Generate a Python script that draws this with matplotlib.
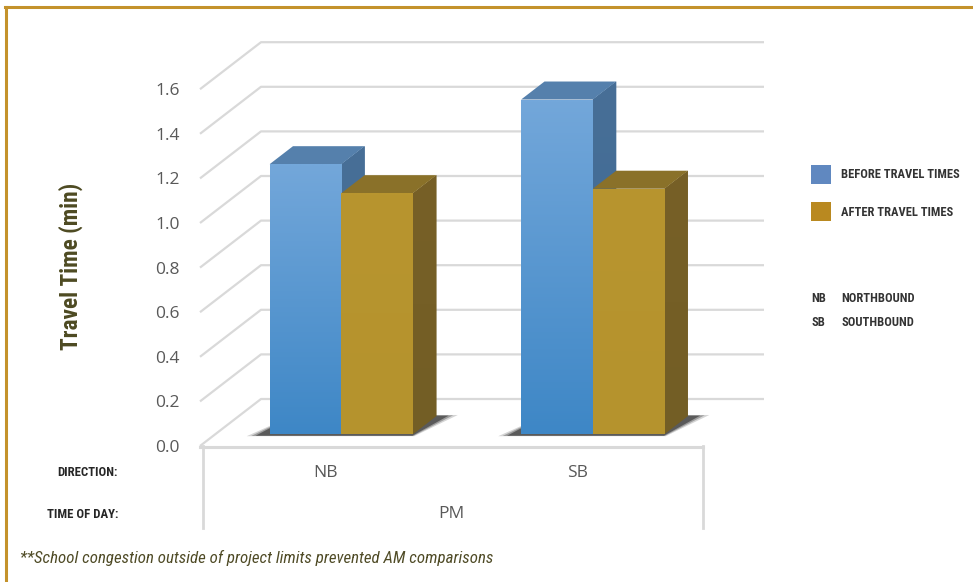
import numpy as np
import matplotlib
matplotlib.use("Agg")
import matplotlib.pyplot as plt
from matplotlib import font_manager as fm
from matplotlib.patches import Polygon, Rectangle
from matplotlib.colors import to_rgb

# ---------------- data ----------------
categories = ["NB", "SB"]
time_of_day = "PM"
before_vals = [1.21, 1.50]
after_vals = [1.08, 1.10]
y_ticks = [0.0, 0.2, 0.4, 0.6, 0.8, 1.0, 1.2, 1.4, 1.6]
series_labels = ["BEFORE TRAVEL TIMES", "AFTER TRAVEL TIMES"]
abbrevs = [("NB", "NORTHBOUND"), ("SB", "SOUTHBOUND")]
y_title = "Travel Time (min)"
row_labels = ["DIRECTION:", "TIME OF DAY:"]
footnote = "**School congestion outside of project limits prevented AM comparisons"

# ---------------- fonts ----------------
ttf = fm.fontManager.ttflist
names = {f.name for f in ttf}
cond_family, cond_stretch = "DejaVu Sans", "normal"
for cand in ["Liberation Sans Narrow", "Roboto Condensed", "Open Sans Condensed",
             "DejaVu Sans Condensed"]:
    if cand in names:
        cond_family = cand
        break
else:
    if any(f.name == "DejaVu Sans" and str(f.stretch) in ("condensed", "semi-condensed", "500", "75", "87")
           for f in ttf):
        cond_stretch = "condensed"
tick_family = "Open Sans" if "Open Sans" in names else "DejaVu Sans"

W, H = 973, 582
fig = plt.figure(figsize=(W / 100, H / 100), dpi=100)
fig.patch.set_facecolor("white")

# axes mapping: front plane x: category units, y: value units
PX0, PXU = 200.0, 251.5
PY0, PYU = 446.0, 223.0
ax = fig.add_axes([0, 0, 1, 1])
ax.set_xlim(-PX0 / PXU, (W - PX0) / PXU)
ax.set_ylim((PY0 - H) / PYU, PY0 / PYU)
ax.axis("off")

DX, DY = 61 / PXU, 47 / PYU  # full depth offset
ncat = len(categories)


def proj(x, v, d):
    return (x + d * DX, v + d * DY)


grid_c = "#D9D9D9"
# gridlines on side wall and back wall
for v in y_ticks:
    ax.plot([0, DX, ncat + DX], [v, v + DY, v + DY], color=grid_c, lw=1.6,
            solid_capstyle="butt", zorder=1)
    ax.text(-20 / PXU, v - 2 / PYU, f"{v:.1f}", ha="right", va="center",
            fontsize=12.5, color="#595959", family=tick_family, zorder=5)

# floor front edge and category box
ax.plot([0, ncat], [-1 / PYU, -1 / PYU], color=grid_c, lw=2.2, zorder=1)
box_bottom = (PY0 - 528) / PYU
ax.plot([0.01, 0.01], [0, box_bottom], color=grid_c, lw=2.0, zorder=1)
ax.plot([ncat, ncat], [0, box_bottom], color=grid_c, lw=2.0, zorder=1)

for i, c in enumerate(categories):
    ax.text(i + 0.5, (PY0 - 473) / PYU, c, ha="center", va="center",
            fontsize=12.5, color="#595959", family=tick_family)
ax.text(ncat / 2, (PY0 - 514) / PYU, time_of_day, ha="center", va="center",
        fontsize=12.5, color="#595959", family=tick_family)

# bars
bar_w = 0.285
d0, d1 = 0.255, 0.638
styles = [
    dict(top_c="#73A7DA", bot_c="#3E87C6", lid="#5580AC", side_top="#486F97", side_bot="#3B6A95"),
    dict(top_c="#B8952F", bot_c="#B5932D", lid="#8A7129", side_top="#776027", side_bot="#735E25"),
]


def vgrad(c_top, c_bot, n=64):
    a, b = np.array(to_rgb(c_top)), np.array(to_rgb(c_bot))
    t = np.linspace(0, 1, n)[:, None]
    return (a * (1 - t) + b * t)[:, None, :]


z = 3
for i, c in enumerate(categories):
    center = i + 0.5
    gx0, gx1 = center - bar_w, center + bar_w
    # shadow on floor
    for k, (grow, alpha) in enumerate([(0.055, 0.18), (0.038, 0.3), (0.022, 0.5)]):
        pts = [proj(gx0 - grow - 0.025, 0, d0 - 0.03 - grow * 0.3),
               proj(gx1 + grow * 0.3, 0, d0 - 0.03 - grow * 0.3),
               proj(gx1 + grow + 0.025, 0, d1 + grow * 0.4),
               proj(gx0, 0, d1 + grow * 0.4)]
        ax.add_patch(Polygon(pts, closed=True, facecolor="#1a1a1a", edgecolor="none",
                             alpha=alpha, zorder=2))
    for j, vals in enumerate([before_vals, after_vals]):
        v = vals[i]
        x0 = center - bar_w + j * bar_w
        x1 = x0 + bar_w
        s = styles[j]
        # side face
        side = [proj(x1, 0, d0), proj(x1, 0, d1), proj(x1, v, d1), proj(x1, v, d0)]
        sp = Polygon(side, closed=True, facecolor=s["side_bot"], edgecolor="none", zorder=z)
        ax.add_patch(sp)
        fx0, fy0 = proj(x1, 0, d0)
        fx1, fy1 = proj(x1, v, d1)
        im = ax.imshow(vgrad(s["side_top"], s["side_bot"]), extent=[fx0, fx1, fy0, fy1],
                       aspect="auto", zorder=z, interpolation="bilinear")
        im.set_clip_path(sp)
        # top face
        top = [proj(x0, v, d0), proj(x1, v, d0), proj(x1, v, d1), proj(x0, v, d1)]
        ax.add_patch(Polygon(top, closed=True, facecolor=s["lid"], edgecolor="none", zorder=z))
        # front face
        ax0, ay0 = proj(x0, 0, d0)
        ax1, ay1 = proj(x1, v, d0)
        fp = Rectangle((ax0, ay0), ax1 - ax0, ay1 - ay0, facecolor=s["bot_c"],
                       edgecolor="none", zorder=z + 0.5)
        ax.add_patch(fp)
        im = ax.imshow(vgrad(s["top_c"], s["bot_c"]), extent=[ax0, ax1, ay0, ay1],
                       aspect="auto", zorder=z + 0.5, interpolation="bilinear")
        im.set_clip_path(fp)
        z += 1

ax.set_xlim(-PX0 / PXU, (W - PX0) / PXU)
ax.set_ylim((PY0 - H) / PYU, PY0 / PYU)


def fx(px):
    return px / W


def fy(py):
    return 1 - py / H


cond = dict(family=cond_family, stretch=cond_stretch)

# y-axis title
fig.text(fx(71), fy(266), y_title, rotation=90, ha="center", va="center",
         fontsize=16.8, fontweight="bold", color="#4D4A22", **cond)

# row labels
fig.text(fx(118), fy(473), row_labels[0], ha="right", va="center", fontsize=9.2,
         fontweight="bold", color="#262626", **cond)
fig.text(fx(118), fy(515), row_labels[1], ha="right", va="center", fontsize=9.2,
         fontweight="bold", color="#262626", **cond)

# legend
leg_cols = ["#6088C0", "#B98920"]
for k, (lab, col) in enumerate(zip(series_labels, leg_cols)):
    py = 165 + k * 37
    fig.patches.append(Rectangle((fx(811), fy(py + 19)), 20 / W, 19 / H,
                                 transform=fig.transFigure, facecolor=col,
                                 edgecolor="none", figure=fig))
    fig.text(fx(841), fy(py + 10), lab, ha="left", va="center", fontsize=9.0,
             fontweight="bold", color="#333333", **cond)

for k, (ab, full) in enumerate(abbrevs):
    py = 298 + k * 24
    fig.text(fx(811), fy(py), ab, ha="left", va="center", fontsize=9.0,
             fontweight="bold", color="#333333", **cond)
    fig.text(fx(841), fy(py), full, ha="left", va="center", fontsize=9.0,
             fontweight="bold", color="#333333", **cond)

# footnote
fig.text(fx(20), fy(558), footnote, ha="left", va="center", fontsize=12.2,
         style="italic", color="#4F4B26", **cond)

# gold frame
gold = "#C4922B"
fig.lines.append(plt.Line2D([fx(5), fx(W)], [fy(6.5), fy(6.5)], transform=fig.transFigure,
                            color=gold, lw=2.2, figure=fig))
fig.lines.append(plt.Line2D([fx(5.5), fx(5.5)], [fy(6.5), fy(H)], transform=fig.transFigure,
                            color=gold, lw=2.2, figure=fig))

fig.savefig("out.png", dpi=100, facecolor="white")
